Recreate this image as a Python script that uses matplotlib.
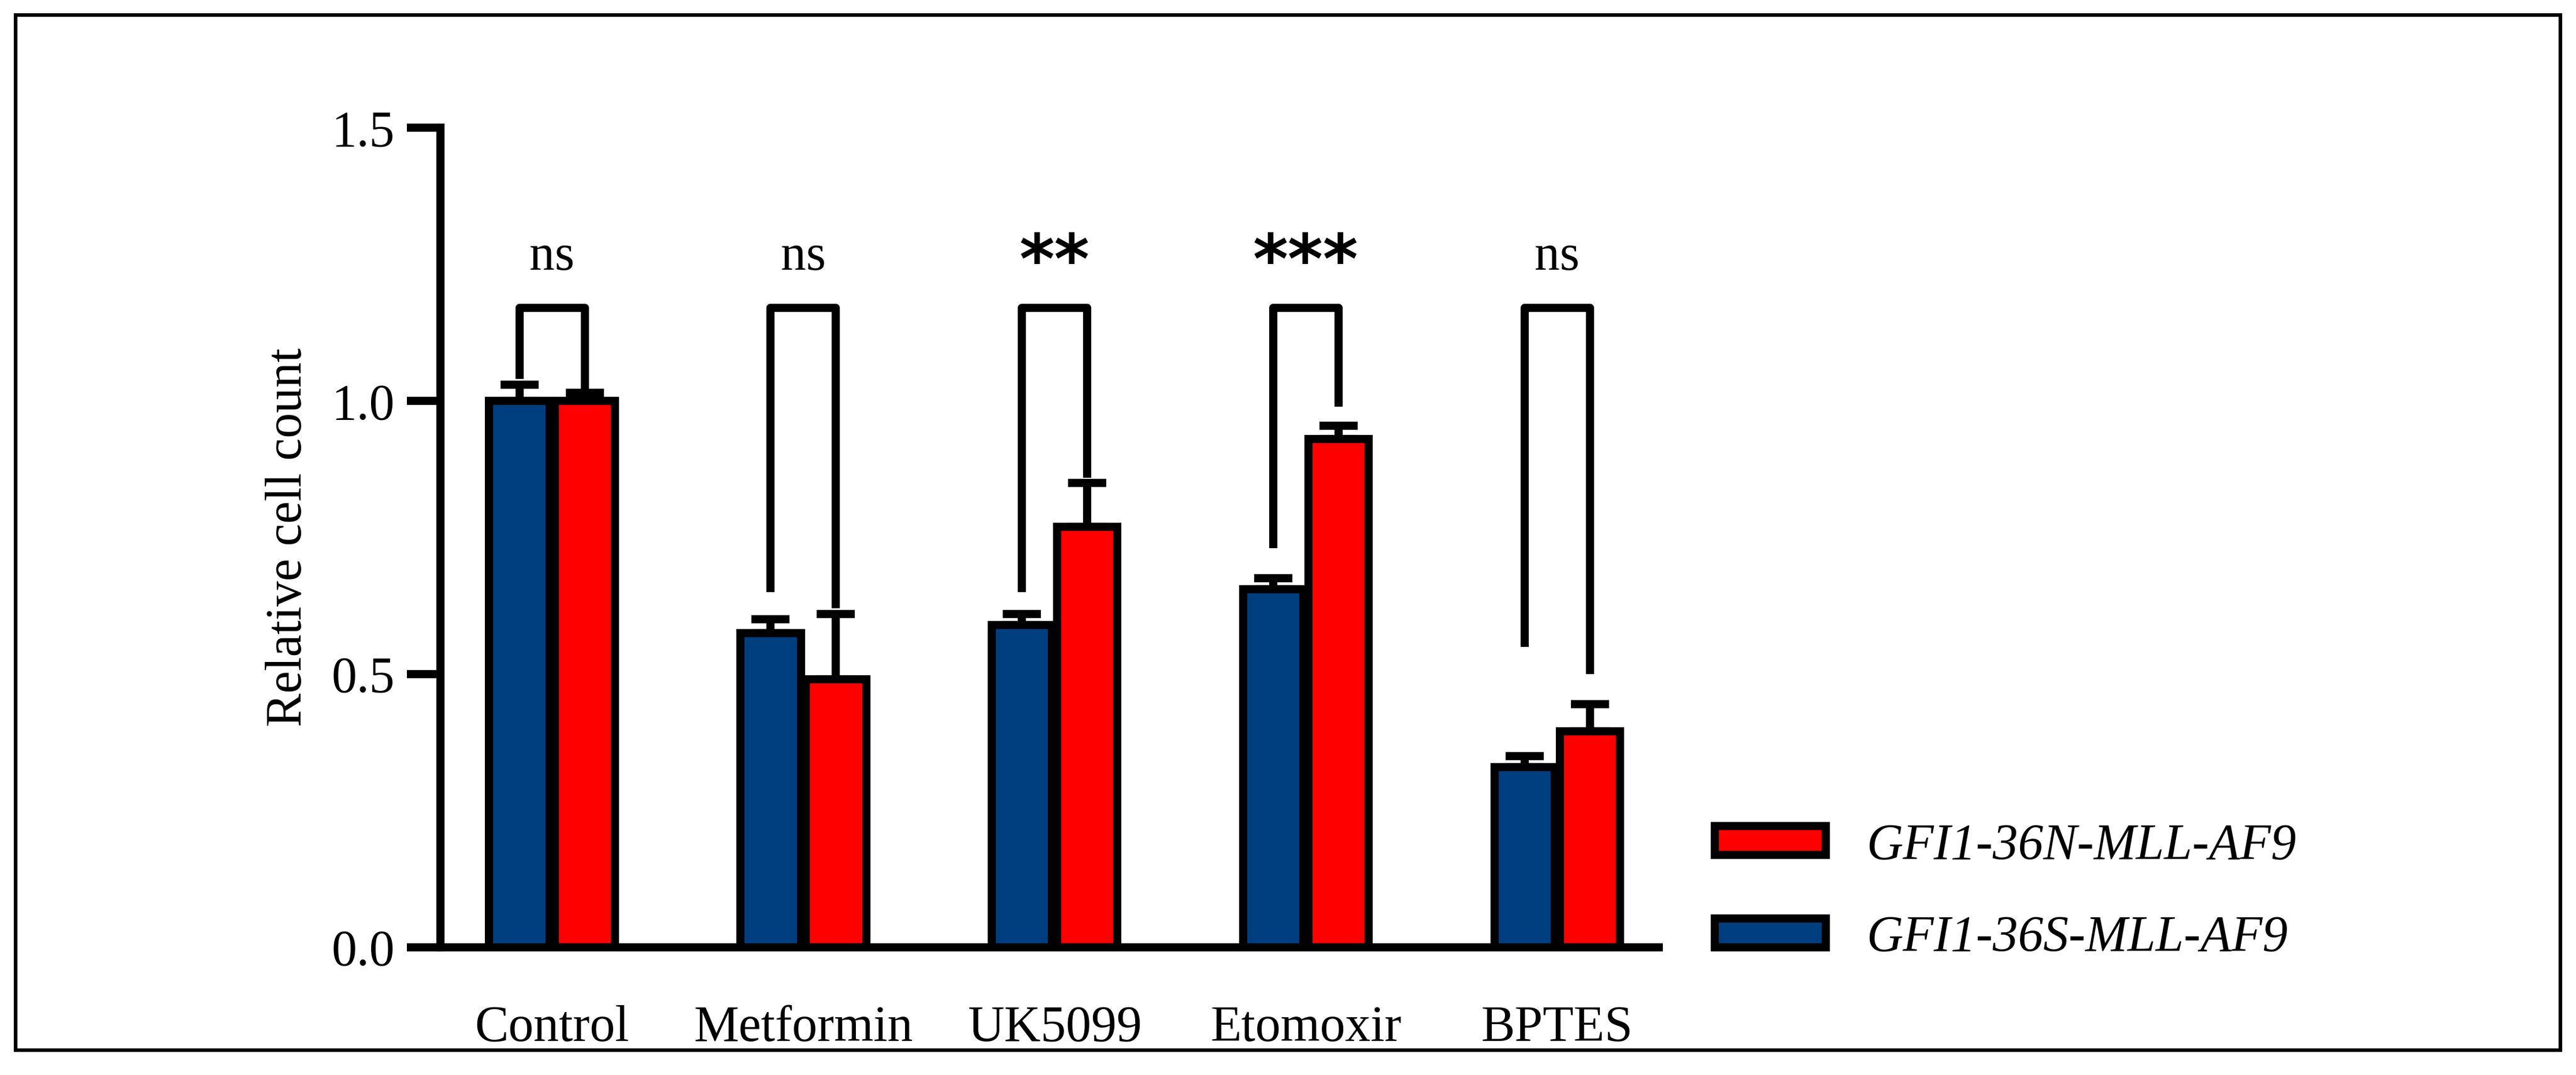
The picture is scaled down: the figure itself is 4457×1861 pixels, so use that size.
import numpy as np
import matplotlib.pyplot as plt
from matplotlib.patches import Rectangle

plt.rcParams['font.family'] = ['Liberation Serif', 'DejaVu Serif']

groups = ['Control', 'Metformin', 'UK5099', 'Etomoxir', 'BPTES']
s_mean = [1.00, 0.575, 0.59, 0.655, 0.33]
s_err = [0.03, 0.025, 0.02, 0.02, 0.02]
n_mean = [1.00, 0.49, 0.77, 0.93, 0.395]
n_err = [0.015, 0.12, 0.08, 0.025, 0.05]
sig = ['ns', 'ns', '**', '***', 'ns']
leg_left = [1.04, 0.65, 0.65, 0.73, 0.55]
leg_right = [1.02, 0.62, 0.86, 0.99, 0.50]
bracket_top = 1.17

blue = '#003f7f'
red = '#ff0000'
lw = 3.4

fig = plt.figure(figsize=(4457 / 300, 1861 / 300), dpi=300)
fig.patches.append(Rectangle((0.006, 0.023), 0.988, 0.963, transform=fig.transFigure,
                             fill=False, lw=1.5, ec='black'))
ax = fig.add_axes([0.171, 0.119, 0.473, 0.762])

x = np.arange(len(groups))
w = 0.24
off = 0.13
ax.bar(x - off, s_mean, w, color=blue, ec='black', lw=lw, label='GFI1-36S-MLL-AF9', zorder=3)
ax.bar(x + off, n_mean, w, color=red, ec='black', lw=lw, label='GFI1-36N-MLL-AF9', zorder=3)
for xi, m, e in zip(x - off, s_mean, s_err):
    ax.errorbar(xi, m, yerr=[[0], [e]], color='black', lw=lw, capsize=8, capthick=lw, zorder=2)
for xi, m, e in zip(x + off, n_mean, n_err):
    ax.errorbar(xi, m, yerr=[[0], [e]], color='black', lw=lw, capsize=8, capthick=lw, zorder=2)

for i in range(len(groups)):
    ax.plot([i - off, i - off, i + off, i + off], [leg_left[i], bracket_top, bracket_top, leg_right[i]],
            color='black', lw=lw, solid_capstyle='butt')
    if sig[i] == 'ns':
        ax.text(i, 1.22, sig[i], ha='center', va='bottom', fontsize=21)
    else:
        ax.text(i, 1.19, sig[i], ha='center', va='bottom', fontsize=28, fontweight='bold',
                family='DejaVu Sans')

ax.set_xlim(-0.444, 4.405)
ax.set_ylim(0, 1.5)
ax.set_yticks([0, 0.5, 1.0, 1.5])
ax.set_yticklabels(['0.0', '0.5', '1.0', '1.5'], fontsize=21)
ax.set_xticks(x)
ax.set_xticklabels(groups, fontsize=21)
ax.tick_params(axis='x', direction='in', length=18, width=lw, pad=24)
ax.tick_params(axis='y', length=14, width=lw, pad=5)
ax.set_ylabel('Relative cell count', fontsize=21, labelpad=8)
for s in ['top', 'right']:
    ax.spines[s].set_visible(False)
for s in ['left', 'bottom']:
    ax.spines[s].set_linewidth(lw)

h, l = ax.get_legend_handles_labels()
fig.legend(h[::-1], l[::-1], loc='center left', bbox_to_anchor=(0.648, 0.17), frameon=False,
           prop={'style': 'italic', 'size': 21}, handlelength=2.2, handleheight=0.5,
           labelspacing=0.9)

fig.savefig('out.png', dpi=300)
